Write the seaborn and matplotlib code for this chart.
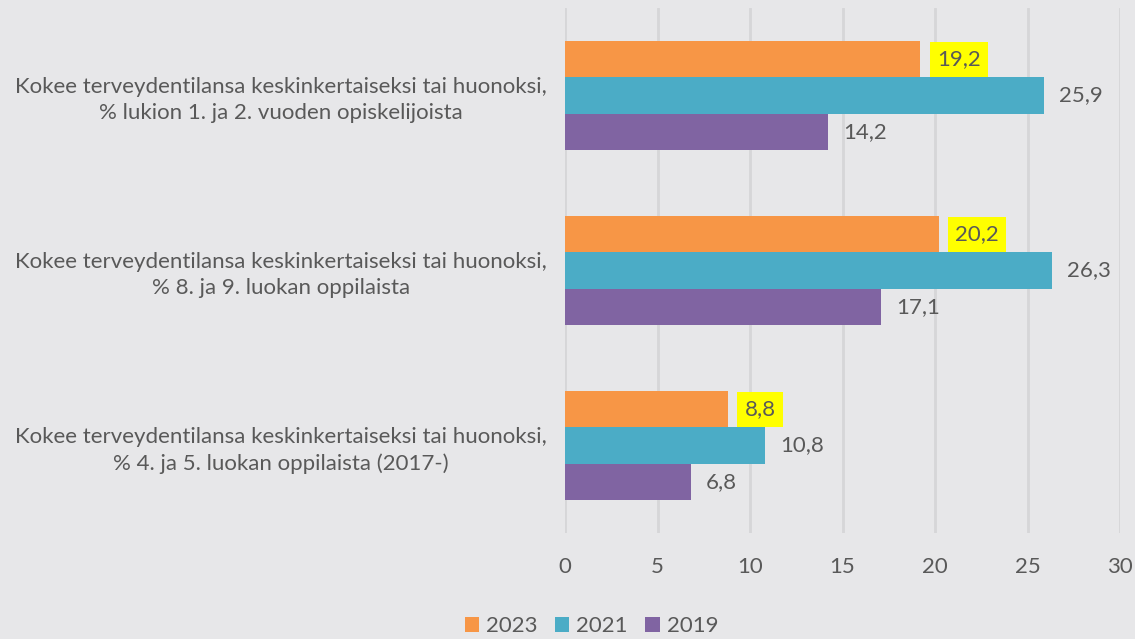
import matplotlib
matplotlib.use("Agg")
import matplotlib.pyplot as plt
import seaborn as sns
import pandas as pd

categories = [
    "Kokee terveydentilansa keskinkertaiseksi tai huonoksi,\n% lukion 1. ja 2. vuoden opiskelijoista",
    "Kokee terveydentilansa keskinkertaiseksi tai huonoksi,\n% 8. ja 9. luokan oppilaista",
    "Kokee terveydentilansa keskinkertaiseksi tai huonoksi,\n% 4. ja 5. luokan oppilaista (2017-)",
]
years = ["2023", "2021", "2019"]
values_2023 = [19.2, 20.2, 8.8]
values_2021 = [25.9, 26.3, 10.8]
values_2019 = [14.2, 17.1, 6.8]
x_ticks = [0, 5, 10, 15, 20, 25, 30]

colors = ["#F79646", "#4BACC6", "#8064A2"]
bg = "#E7E7E9"
text_color = "#595959"
fs = 16

rows = []
for year, vals in zip(years, [values_2023, values_2021, values_2019]):
    for cat, v in zip(categories, vals):
        rows.append({"kategoria": cat, "vuosi": year, "arvo": v})
df = pd.DataFrame(rows)

sns.set_style("white")
plt.rcParams["font.family"] = ["Lato", "DejaVu Sans"]

fig = plt.figure(figsize=(11.35, 6.39), dpi=100, facecolor=bg)
ax = fig.add_axes([0.4978, 0.166, 0.4890, 0.8215])
ax.set_facecolor(bg)

sns.barplot(data=df, y="kategoria", x="arvo", hue="vuosi", order=categories,
            hue_order=years, palette=colors, orient="h", width=0.62,
            saturation=1, linewidth=0, ax=ax, legend=True)

ax.set_xlim(0, 30)
ax.set_ylim(2.5, -0.5)
ax.set_xticks(x_ticks)
ax.set_xticklabels([str(t) for t in x_ticks])
ax.grid(axis="x", color="#D6D6D8", linewidth=2)
ax.grid(axis="y", visible=False)
ax.set_axisbelow(True)
for s in ax.spines.values():
    s.set_visible(False)
ax.set_xlabel("")
ax.set_ylabel("")
ax.tick_params(axis="both", length=0, colors=text_color, labelsize=fs)
ax.tick_params(axis="x", pad=17)
ax.tick_params(axis="y", pad=13)
for lbl in ax.get_yticklabels():
    lbl.set_multialignment("center")
    lbl.set_linespacing(1.35)

for i, container in enumerate(ax.containers):
    labels = [f"{v:.1f}".replace(".", ",") for v in container.datavalues]
    if i == 0:
        ax.bar_label(container, labels=labels, padding=12, color=text_color, fontsize=fs,
                     bbox=dict(boxstyle="square,pad=0.33", facecolor="#FFFF00", edgecolor="none"))
    else:
        ax.bar_label(container, labels=labels, padding=11, color=text_color, fontsize=fs)

handles, labs = ax.get_legend_handles_labels()
ax.legend_.remove()
fig.legend(handles, labs, loc="center", bbox_to_anchor=(0.521, 0.02), ncol=3, frameon=False,
           fontsize=fs, labelcolor=text_color, handlelength=0.65, handleheight=0.65,
           handletextpad=0.3, columnspacing=0.8)

fig.savefig("out.png", dpi=100, facecolor=bg)
